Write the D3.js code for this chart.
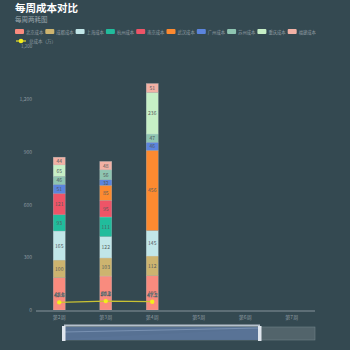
<!DOCTYPE html>
<html>
<head>
<meta charset="utf-8">
<script src="https://cdn.jsdelivr.net/npm/d3@7"></script>
<style>
  html, body { margin: 0; padding: 0; background: #344951; }
  svg { display: block; font-family: "Noto Sans CJK SC", "Noto Sans", sans-serif; }
</style>
</head>
<body>
<div id="chart"></div>
<script>
// weekly cost comparison, stacked by city + total line
var weeks = ["第2周", "第3周", "第4周", "第5周", "第6周", "第7周"];
var cities = ["北京成本", "成都成本", "上海成本", "杭州成本", "南京成本", "武汉成本", "广州成本", "苏州成本", "重庆成本", "福建成本"];
var colors = ["#f98b7e", "#cdb46f", "#c1e6e8", "#21bc9c", "#ee5467", "#fd8a30", "#5b84dd", "#8ec5b1", "#c6efc6", "#f2b1a5"];

var beijing   = [184, 193, 195, null, null, null];
var chengdu   = [100, 103, 112, null, null, null];
var shanghai  = [165, 122, 145, null, null, null];
var hangzhou  = [93, 111, null, null, null, null];
var nanjing   = [121, 95, null, null, null, null];
var wuhan     = [null, 85, 456, null, null, null];
var guangzhou = [51, 32, 46, null, null, null];
var suzhou    = [46, 56, 47, null, null, null];
var chongqing = [65, null, 236, null, null, null];
var fujian    = [44, 48, 51, null, null, null];
var totalLine = [43.6, 50.5, 47.2];

var yTicks = [0, 300, 600, 900, 1200];

var series = [beijing, chengdu, shanghai, hangzhou, nanjing, wuhan, guangzhou, suzhou, chongqing, fujian];

var width = 350, height = 350;

var svg = d3.select("#chart").append("svg")
    .attr("width", width)
    .attr("height", height);

svg.append("rect").attr("width", width).attr("height", height).attr("fill", "#344951");

// title
svg.append("text").attr("x", 15).attr("y", 12)
    .attr("fill", "#ffffff").style("font-size", "10.5px").style("font-weight", "bold")
    .text("每周成本对比");
svg.append("text").attr("x", 15).attr("y", 22)
    .attr("fill", "#9aa5ab").style("font-size", "6.5px")
    .text("每周两耗图");

// legend
var leg = svg.append("g");
cities.forEach(function(name, i) {
    var g = leg.append("g").attr("transform", "translate(" + (15 + i * 30.3) + ",29)");
    g.append("rect").attr("width", 9).attr("height", 5).attr("rx", 1).attr("fill", colors[i]);
    g.append("text").attr("x", 11).attr("y", 4.5).attr("fill", "#8f9ba1")
        .style("font-size", "4.3px").text(name);
});
var lg = leg.append("g").attr("transform", "translate(16,41)");
lg.append("line").attr("x1", 0).attr("x2", 10).attr("y1", 0).attr("y2", 0)
    .attr("stroke", "#e8e02a").attr("stroke-width", 1.2);
lg.append("circle").attr("cx", 5).attr("cy", 0).attr("r", 2.3).attr("fill", "#f4ee1c");
lg.append("text").attr("x", 13).attr("y", 1.8).attr("fill", "#8f9ba1")
    .style("font-size", "4.5px").text("总成本（万）");
lg.append("text").attr("x", 5).attr("y", 6.5).attr("fill", "#8f9ba1")
    .style("font-size", "4.5px").text("1,200");

// scales
var x = d3.scaleBand().domain(weeks).range([36, 315]);
var y = d3.scaleLinear().domain([0, 1200]).range([310, 99]);
var barW = 12;

// y axis labels
svg.append("g").selectAll("text").data(yTicks).enter().append("text")
    .attr("x", 32).attr("y", function(d) { return y(d) + 2; })
    .attr("text-anchor", "end").attr("fill", "#8f9ba1").style("font-size", "5px")
    .text(function(d) { return d3.format(",")(d); });

// stacked bars
var table = weeks.map(function(w, i) {
    var row = { week: w };
    cities.forEach(function(c, j) { row[c] = series[j][i] || 0; });
    return row;
});
var stacked = d3.stack().keys(cities)(table);

var bars = svg.append("g");
stacked.forEach(function(layer, j) {
    layer.forEach(function(d) {
        var v = d[1] - d[0];
        if (!v) return;
        var cx = x(d.data.week) + x.bandwidth() / 2;
        bars.append("rect")
            .attr("x", cx - barW / 2).attr("width", barW)
            .attr("y", y(d[1])).attr("height", y(d[0]) - y(d[1]))
            .attr("fill", colors[j])
            .attr("stroke", "rgba(200,210,215,0.45)").attr("stroke-width", 0.5);
        bars.append("text")
            .attr("x", cx).attr("y", (y(d[0]) + y(d[1])) / 2 + 2)
            .attr("text-anchor", "middle").attr("fill", "#555a5c").style("font-size", "5px")
            .text(v);
    });
});

// x axis
svg.append("line").attr("x1", 36).attr("x2", 315).attr("y1", 311).attr("y2", 311)
    .attr("stroke", "#5d6e76").attr("stroke-width", 2);
svg.append("g").selectAll("text").data(weeks).enter().append("text")
    .attr("x", function(d) { return x(d) + x.bandwidth() / 2; }).attr("y", 319)
    .attr("text-anchor", "middle").attr("fill", "#8f9ba1").style("font-size", "5px")
    .text(function(d) { return d; });

// total line
var lineData = totalLine.map(function(v, i) { return { week: weeks[i], v: v }; });
var line = d3.line()
    .x(function(d) { return x(d.week) + x.bandwidth() / 2; })
    .y(function(d) { return y(d.v); });
svg.append("path").datum(lineData).attr("d", line)
    .attr("fill", "none").attr("stroke", "#c9c233").attr("stroke-width", 1.2);
svg.selectAll(".pt").data(lineData).enter().append("circle")
    .attr("cx", function(d) { return x(d.week) + x.bandwidth() / 2; })
    .attr("cy", function(d) { return y(d.v); })
    .attr("r", 2.2).attr("fill", "#f4ee1c");
svg.selectAll(".pl").data(lineData).enter().append("text")
    .attr("x", function(d) { return x(d.week) + x.bandwidth() / 2; })
    .attr("y", function(d) { return y(d.v) - 5; })
    .attr("text-anchor", "middle").attr("fill", "#eef2f3")
    .attr("stroke", "#555a5c").attr("stroke-width", 0.5)
    .style("font-size", "5px").style("font-weight", "bold")
    .text(function(d) { return d.v; });

// data zoom slider
var dz = svg.append("g");
dz.append("rect").attr("x", 63).attr("y", 327).attr("width", 252).attr("height", 13)
    .attr("fill", "#52646b").attr("stroke", "#6f8088").attr("stroke-width", 0.6);
dz.append("path").attr("d", "M64,339 L260,329 L260,339 Z").attr("fill", "#6a7f95").attr("opacity", 0.5);
dz.append("rect").attr("x", 64).attr("y", 327).attr("width", 196).attr("height", 13)
    .attr("fill", "#58739a").attr("opacity", 0.85);
dz.append("line").attr("x1", 64).attr("x2", 260).attr("y1", 332).attr("y2", 328)
    .attr("stroke", "#8ea6c6").attr("stroke-width", 0.6);
dz.append("rect").attr("x", 64).attr("y", 324.5).attr("width", 196).attr("height", 2)
    .attr("fill", "#b5c0cc");
dz.append("rect").attr("x", 62).attr("y", 326).attr("width", 3.5).attr("height", 15)
    .attr("fill", "#dfe6ee");
dz.append("rect").attr("x", 258).attr("y", 326).attr("width", 3.5).attr("height", 15)
    .attr("fill", "#dfe6ee");
</script>
</body>
</html>
